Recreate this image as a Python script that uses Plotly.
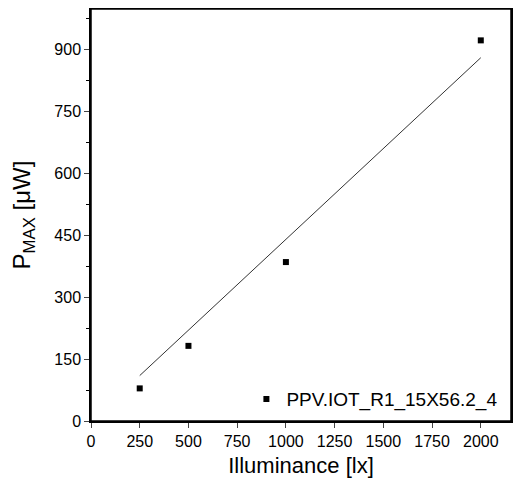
import plotly.graph_objects as go

illuminance = [250, 500, 1000, 2000]
pmax = [79, 182, 385, 922]
fit_x = [250, 2000]
fit_y = [110, 880]
series_name = "PPV.IOT_R1_15X56.2_4"
x_ticks = [0, 250, 500, 750, 1000, 1250, 1500, 1750, 2000]
y_ticks = [0, 150, 300, 450, 600, 750, 900]

FONT = "Liberation Sans, Arial, sans-serif"

fig = go.Figure()
fig.add_trace(go.Scatter(x=fit_x, y=fit_y, mode="lines",
                         line=dict(color="#333333", width=1), showlegend=False))
fig.add_trace(go.Scatter(x=illuminance, y=pmax, mode="markers", name=series_name,
                         marker=dict(symbol="square", size=6, color="black")))

xr = [0, 2155]
yr = [0, 998]
LW = 1.5

# figure sized so that, with the page's 8px body margin, nothing overflows the window
fig.update_layout(
    width=505, height=470,
    margin=dict(l=83, r=2, t=1, b=57),
    paper_bgcolor="white", plot_bgcolor="white",
    font=dict(family=FONT, color="black", size=16),
    xaxis=dict(range=xr, tickvals=x_ticks, ticks="outside", ticklen=5, tickwidth=1.3, automargin=False,
               showline=True, mirror="ticks", linecolor="black", linewidth=LW, showgrid=False, zeroline=False,
               title=dict(text="Illuminance [lx]", font=dict(size=22), standoff=13),
               tickfont=dict(size=16)),
    yaxis=dict(range=yr, tickvals=y_ticks, ticks="outside", ticklen=5, tickwidth=1.3, automargin=False,
               showline=True, mirror="ticks", linecolor="black", linewidth=LW, showgrid=False, zeroline=False,
               minor=dict(dtick=75, tick0=0, ticks="outside", ticklen=3, tickwidth=1.3, tickcolor="black"),
               title=dict(text="P<sub>MAX</sub> [μW]", font=dict(size=24), standoff=20),
               tickfont=dict(size=16)),
    legend=dict(x=0.37, y=0.053, xanchor="left", yanchor="middle", bgcolor="rgba(0,0,0,0)",
                font=dict(size=19), borderwidth=0),
    shapes=[dict(type="rect", xref="paper", yref="paper", x0=0, x1=1, y0=0, y1=1,
                 line=dict(color="black", width=LW), layer="above")],
)

fig.write_html("out.html")
